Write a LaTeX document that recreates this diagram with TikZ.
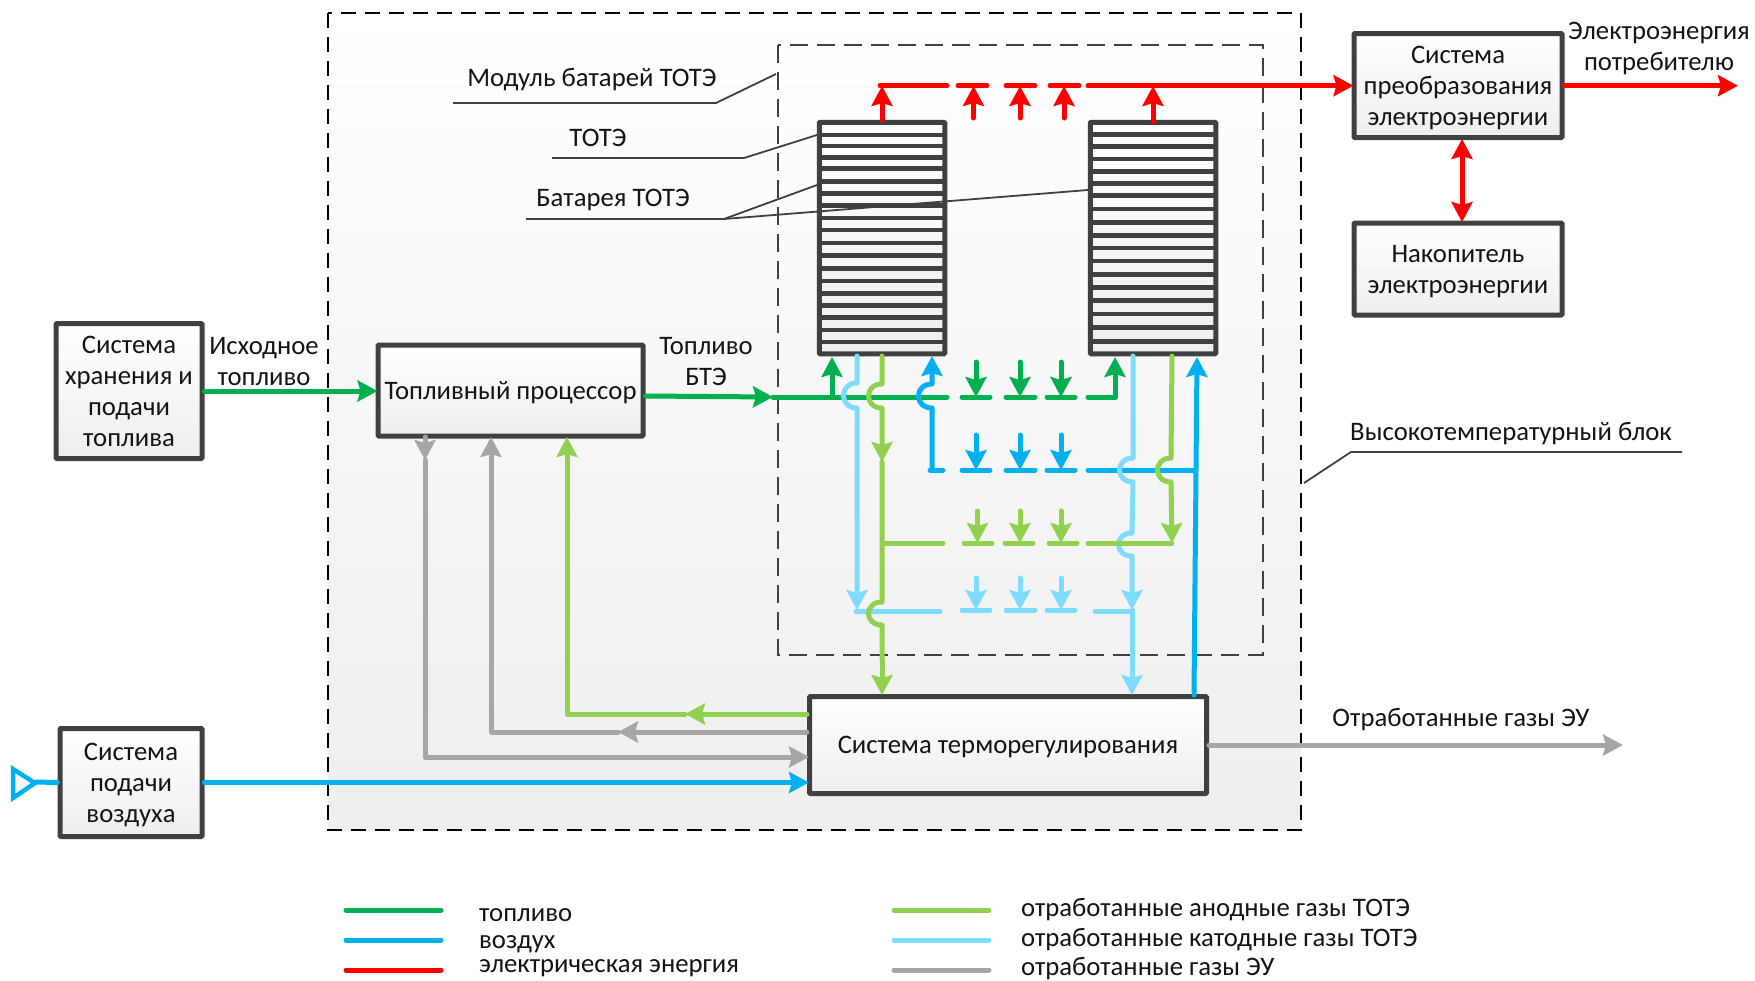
\documentclass[tikz,border=0pt]{standalone}
\usepackage{fontspec}
\setmainfont{Carlito}
\usetikzlibrary{arrows.meta,calc}
\definecolor{FrameGray}{RGB}{64,64,64}
\definecolor{FuelGreen}{RGB}{0,176,80}
\definecolor{AirBlue}{RGB}{0,176,240}
\definecolor{CathBlue}{RGB}{127,219,255}
\definecolor{AnodeGreen}{RGB}{146,208,80}
\definecolor{ExhGray}{RGB}{166,166,166}
\definecolor{ElRed}{RGB}{255,0,0}
\definecolor{ShadeGray}{RGB}{238,238,238}
\definecolor{TextDark}{RGB}{20,20,20}
\tikzset{
  sysbox/.style={draw=FrameGray,line width=5pt,rounded corners=1pt,top color=white,bottom color=ShadeGray,align=center,inner sep=0pt,font=\fontsize{26.7}{31}\selectfont,text=TextDark,text depth=0pt},
  lab/.style={align=center,inner sep=0pt,font=\fontsize{26.7}{31}\selectfont,text=TextDark,text depth=0pt},
  leader/.style={draw=FrameGray,line width=1.8pt},
  flowln/.style={line width=5pt,line cap=round,line join=round},
  fuelln/.style={flowln,draw=FuelGreen},
  airln/.style={flowln,draw=AirBlue},
  cathln/.style={flowln,draw=CathBlue},
  anodeln/.style={flowln,draw=AnodeGreen},
  exhln/.style={flowln,draw=ExhGray},
  elln/.style={flowln,draw=ElRed},
  arr/.style={-{Stealth[length=20pt,width=21pt,inset=3pt]}},
  intobox/.style={shorten >=-2pt},
  biarr/.style={{Stealth[length=20pt,width=21pt,inset=3pt]}-{Stealth[length=20pt,width=21pt,inset=3pt]}}
}
\newcommand{\hop}[3]{-- (#1,#2) .. controls (#1-18,#2) and (#1-18,#3) .. (#1,#3)}
\begin{document}
\begin{tikzpicture}[x=1pt,y=-1pt]
\useasboundingbox (0,0) rectangle (1755,980);
% blocks
\draw[draw=black,line width=2.4pt,dash pattern=on 15pt off 9pt,top color=white,bottom color=ShadeGray] (328,13) rectangle (1301,830);
\draw[draw=FrameGray,line width=2pt,dash pattern=on 18pt off 9pt] (778,45) rectangle (1263,655);
\node[sysbox,minimum width=146pt,minimum height=135pt] (store) at (129,391) {Система\\хранения и\\подачи\\топлива};
\node[sysbox,minimum width=265pt,minimum height=91pt] (proc) at (510.5,390.5) {Топливный процессор};
\node[sysbox,minimum width=142pt,minimum height=108pt] (airsys) at (131,782.5) {Система\\подачи\\воздуха};
\node[sysbox,minimum width=397pt,minimum height=97pt] (thermal) at (1008,745) {Система терморегулирования};
\node[sysbox,minimum width=208pt,minimum height=104pt] (conv) at (1458,85.5) {Система\\преобразования\\электроэнергии};
\node[sysbox,minimum width=208pt,minimum height=92pt] (accum) at (1458,269) {Накопитель\\электроэнергии};
% fuel cell stacks
\node[sysbox,minimum width=125.5pt,minimum height=231.5pt] (stackL) at (882,238) {};
\node[sysbox,minimum width=125.5pt,minimum height=231.5pt] (stackR) at (1153,238) {};
\foreach \y in {135,146,157.3,168.7,181.3,193.7,205.7,218,230,243,255.3,268.3,281,293.3,305.3,317.7,330,342}
  \draw[draw=FrameGray,line width=4.5pt] (stackL.west |- 0,\y) -- (stackL.east |- 0,\y);
\foreach \y in {134.7,146.7,159,171.3,183.3,195.7,209,222.3,235.3,248,261,274.3,287.7,300.7,314,327.3,341.7}
  \draw[draw=FrameGray,line width=4.5pt] (stackR.west |- 0,\y) -- (stackR.east |- 0,\y);
% leaders
\draw[leader] (453,103) -- (716,103) -- (776,74);
\draw[leader] (552,158) -- (744,158) -- (817,135);
\draw[leader] (526,219) -- (724,219) -- (817,185);
\draw[leader] (724,219) -- (1088,190);
\draw[leader] (1682,452) -- (1351,452) -- (1304,483);
% labels
\node[lab] (lmod) at (592,77) {Модуль батарей ТОТЭ};
\node[lab] (lcell) at (598,138) {ТОТЭ};
\node[lab] (lbat) at (613,198) {Батарея ТОТЭ};
\node[lab] (lsrc) at (264,361) {Исходное\\топливо};
\node[lab] (lbte) at (706,361) {Топливо\\БТЭ};
\node[lab] (lhot) at (1511,431) {Высокотемпературный блок};
\node[lab] (lexh) at (1461,717) {Отработанные газы ЭУ};
\node[lab] (lcons) at (1659,46) {Электроэнергия\\потребителю};
% fuel
\draw[fuelln,arr,intobox] (store.east) -- (store.east -| proc.west);
\draw[fuelln,arr] (proc.east |- 0,396) -- (773,397);
\draw[fuelln] (773,397) -- (947,397);
\draw[fuelln,arr] (832,397) -- (832,357);
\draw[fuelln,arr] (1088,397) -- (1115,397) -- (1115,357);
% air
\draw[airln,arr,intobox] (airsys.east) -- (airsys.east -| thermal.west);
\draw[airln] (airsys.west) -- (36,782);
\draw[draw=AirBlue,line width=4.5pt,fill=ShadeGray,fill opacity=0.4,line join=miter] (13,769) -- (35,783) -- (13,798) -- cycle;
\draw[airln,arr] (932,470) \hop{932}{408}{384} -- (932,356);
\draw[airln] (930,470) -- (943,470);
\draw[airln] (1088,470) -- (1195,470);
\draw[airln,arr] (1194,695) -- (1197,357);
% cathode gas
\draw[cathln,arr] (857,356) \hop{857}{383}{408} -- (857,610);
\draw[cathln] (856,611.5) -- (940,611.5);
\draw[cathln] (1095,611) -- (1132,611);
\draw[cathln,arr] (1133,356) \hop{1133}{458}{482} -- (1132,533) \hop{1132}{533}{556} -- (1132,610);
\draw[cathln,arr] (1132,610) -- (1132,695);
% anode gas
\draw[anodeln] (882,543) -- (943,543);
\draw[anodeln] (1088,543) -- (1172,543);
\draw[anodeln,arr] (882,356) \hop{882}{384}{408} -- (882,462);
\draw[anodeln] (882,462) \hop{882}{602}{625} -- (882,660);
\draw[anodeln,arr] (882,660) -- (882,695);
\draw[anodeln,arr] (1172,356) \hop{1171}{458}{482} -- (1172,543);
\draw[anodeln,arr] (thermal.west |- 0,714) -- (685,714);
\draw[anodeln,arr] (685,714) -- (567,714) -- (567,437);
% exhaust
\draw[exhln,arr] (thermal.east) -- (1623,745);
\draw[exhln,arr] (thermal.west |- 0,732) -- (618,732);
\draw[exhln,arr] (618,732) -- (491,732) -- (491,437);
\draw[exhln,arr] (425,437) -- (425,460);
\draw[exhln,arr,intobox] (425,460) -- (425,757) -- (thermal.west |- 0,757);
% electric
\draw[elln,arr] (882,120) -- (882,86);
\draw[elln] (880,85.7) -- (947,85.7);
\draw[elln,arr,intobox] (1088,85.7) -- (conv.west |- 0,85.7);
\draw[elln,arr] (1153,122) -- (1153,86);
\foreach \xa/\xb/\xc in {958/987/973.5,1006/1035/1020,1050/1079/1064}{
  \draw[elln] (\xa,85.7) -- (\xb,85.7);
  \draw[elln,arr] (\xc,118) -- (\xc,86);
}
\draw[elln,arr] (conv.east |- 0,85.7) -- (1738,85.7);
\draw[elln,biarr] (1462,139) -- (1462,222);
% stubs between the stacks
\foreach \st/\yr/\yt in {fuelln/397/362,airln/470/435,cathln/610/578}
  \foreach \xa/\xb/\xc in {962/990/976,1006/1035/1020,1047/1075/1061}{
    \draw[\st] (\xa,\yr) -- (\xb,\yr);
    \draw[\st,arr] (\xc,\yt) -- (\xc,\yr);
  }
\foreach \xa/\xb/\xc in {964/992/977.5,1005/1033/1020,1049/1077/1061}{
  \draw[anodeln] (\xa,543) -- (\xb,543);
  \draw[anodeln,arr] (\xc,511) -- (\xc,543);
}
% legend
\foreach \st/\nm/\xa/\xb/\xt/\yl/\yt/\tx in {fuelln/a/346/441/479/910/915/топливо,airln/b/346/441/479/940/942/воздух,elln/c/346/441/479/970/966/электрическая энергия,anodeln/d/894/989/1021/910/907/отработанные анодные газы ТОТЭ,cathln/e/894/989/1021/940/937/отработанные катодные газы ТОТЭ,exhln/f/894/989/1021/970/966/отработанные газы ЭУ}{
  \draw[\st] (\xa,\yl) -- (\xb,\yl);
  \node[lab,anchor=west] (lg\nm) at (\xt,\yt) {\tx};
}
\end{tikzpicture}
\end{document}
